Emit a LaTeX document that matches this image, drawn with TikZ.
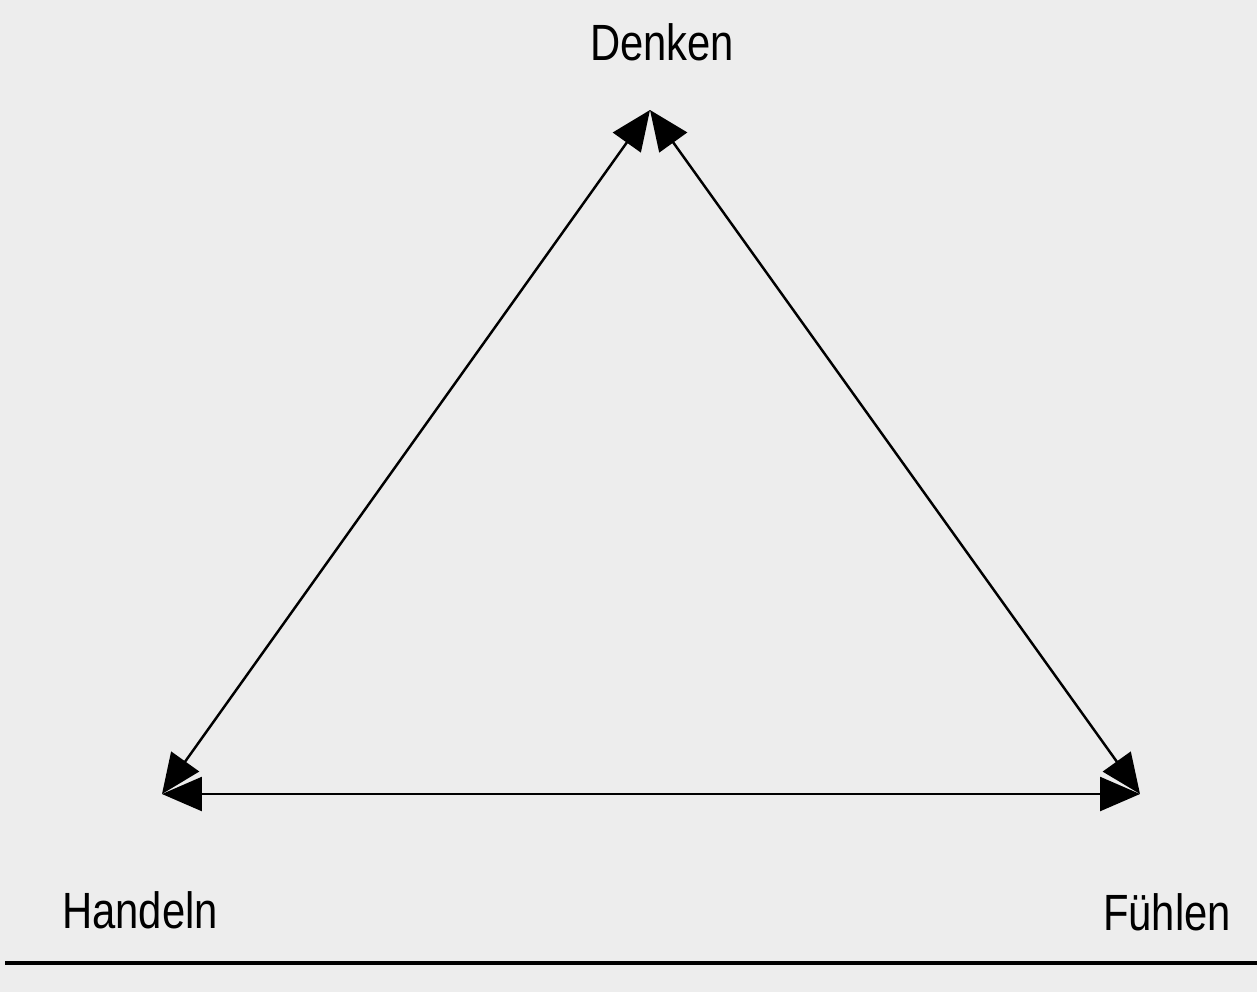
\documentclass[tikz,border=0pt]{standalone}
\usepackage{fontspec}
\setmainfont[FakeStretch=0.82]{Liberation Sans}
\usetikzlibrary{arrows.meta}

\begin{document}
\begin{tikzpicture}[x=0.02cm,y=-0.02cm,>={Triangle[length=0.8cm,width=0.68cm]}]
        \fill[black!7] (0,0) rectangle (1257,992);
        \useasboundingbox (0,0) rectangle (1257,992);
        \coordinate (top) at (650,110);
        \coordinate (left) at (162,794);
        \coordinate (right) at (1140,794);
        \node[font=\fontsize{29}{35}\selectfont] (denken) at (662,42) {Denken};
        \node[font=\fontsize{29}{35}\selectfont] (handeln) at (140,910) {Handeln};
        \node[font=\fontsize{29}{35}\selectfont] (fuehlen) at (1167,912) {Fühlen};
        \draw[<->,line width=1.4pt] (left) -- (top);
        \draw[<->,line width=1.4pt] (top) -- (right);
        \draw[<->,line width=1.4pt] (left) -- (right);
        \draw[line width=2.2pt] (5,963) -- (1257,963);
      \end{tikzpicture}
\end{document}
